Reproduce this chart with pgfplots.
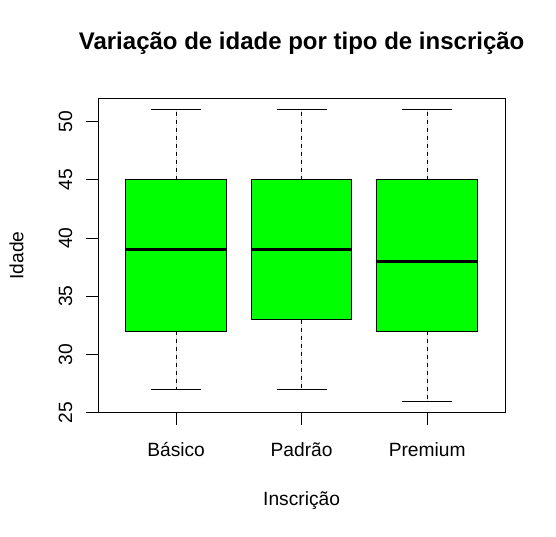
\documentclass[border=0pt]{standalone}
\usepackage{fontspec}
\setmainfont{Liberation Sans}
\usepackage{pgfplots}
\pgfplotsset{compat=1.18}
\usepgfplotslibrary{statistics}

\newcommand{\lbl}{\fontsize{14.4}{17}\selectfont}

\begin{document}
\begin{tikzpicture}
\begin{axis}[
  scale only axis,
  width=305pt, height=235.8pt,
  xmin=0.38, xmax=3.62,
  ymin=25, ymax=52,
  xtick={1,2,3},
  xticklabels={Básico,Padrão,Premium},
  ytick={25,30,35,40,45,50},
  tick pos=left,
  tick align=outside,
  major tick length=9.2pt,
  tick style={black, line width=0.75pt},
  axis line style={line width=0.75pt},
  /pgf/number format/assume math mode=true,
  ticklabel style={font=\lbl},
  xticklabel style={anchor=base, yshift=-23.8pt},
  yticklabel style={xshift=-10.5pt, rotate=90, anchor=base},
  title={Variação de idade por tipo de inscrição},
  title style={font=\bfseries\fontsize{18}{21}\selectfont,
    at={(axis description cs:0.5,1)}, anchor=base, yshift=30.5pt},
  xlabel={Inscrição},
  xlabel style={font=\lbl, at={(axis description cs:0.5,0)}, anchor=base, yshift=-69.5pt},
  ylabel={Idade},
  ylabel style={font=\lbl, at={(axis description cs:-0.1844,0.5)}, anchor=base},
  boxplot/draw direction=y,
  boxplot/box extend=0.8,
  boxplot/whisker extend=0.4,
  boxplot/every box/.style={draw=black, line width=0.75pt, fill=green},
  boxplot/every median/.style={draw=black, line width=2.3pt},
  boxplot/draw/lower whisker/.code={
    \draw[black, line width=0.75pt, dash pattern=on 3pt off 3pt]
      (boxplot cs:\pgfplotsboxplotvalue{lower quartile}) --
      (boxplot cs:\pgfplotsboxplotvalue{lower whisker});
    \draw[black, line width=0.75pt]
      (boxplot whisker cs:\pgfplotsboxplotvalue{lower whisker},0) --
      (boxplot whisker cs:\pgfplotsboxplotvalue{lower whisker},1);
  },
  boxplot/draw/upper whisker/.code={
    \draw[black, line width=0.75pt, dash pattern=on 3pt off 3pt]
      (boxplot cs:\pgfplotsboxplotvalue{upper quartile}) --
      (boxplot cs:\pgfplotsboxplotvalue{upper whisker});
    \draw[black, line width=0.75pt]
      (boxplot whisker cs:\pgfplotsboxplotvalue{upper whisker},0) --
      (boxplot whisker cs:\pgfplotsboxplotvalue{upper whisker},1);
  },
]
  % Basico
  \addplot[black, fill=green, boxplot prepared={draw position=1,
    lower whisker=27, lower quartile=32, median=39,
    upper quartile=45, upper whisker=51}] coordinates {};
  % Padrao
  \addplot[black, fill=green, boxplot prepared={draw position=2,
    lower whisker=27, lower quartile=33, median=39,
    upper quartile=45, upper whisker=51}] coordinates {};
  % Premium
  \addplot[black, fill=green, boxplot prepared={draw position=3,
    lower whisker=26, lower quartile=32, median=38,
    upper quartile=45, upper whisker=51}] coordinates {};
\end{axis}
\pgfresetboundingbox
\path ([xshift=-73.7pt,yshift=-92.5pt]current axis.south west)
  rectangle ([xshift=38.25pt,yshift=73.7pt]current axis.north east);
\end{tikzpicture}
\end{document}
